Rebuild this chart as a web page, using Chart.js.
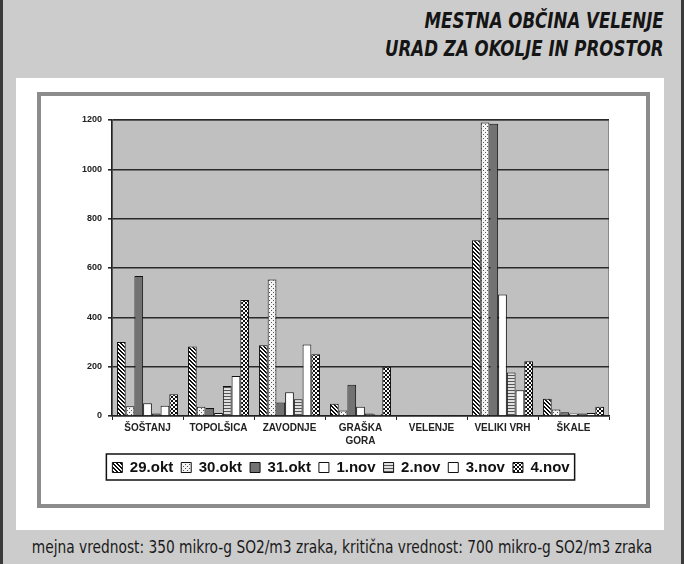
<!DOCTYPE html>
<html>
<head>
<meta charset="utf-8">
<script src="https://cdn.jsdelivr.net/npm/chart.js@4.4.0/dist/chart.umd.min.js"></script>
<style>
  body { margin: 0; width: 684px; height: 564px; background: #cccccc; position: relative; overflow: hidden; }
  .edge { position: absolute; left: 0; top: 0; width: 678px; height: 564px; border-left: 3px solid #3a3a3a; border-right: 3px solid #3a3a3a; }
  .title { position: absolute; right: 20px; top: 7px; text-align: right; color: #151515;
    font-family: "Liberation Sans Narrow", "DejaVu Sans Condensed", sans-serif; font-stretch: condensed;
    font-weight: bold; font-style: italic; font-size: 22px; line-height: 28px;
    transform: scaleX(0.84); transform-origin: right top; }
  .panel { position: absolute; left: 16px; top: 78px; width: 648px; height: 452px; background: #ffffff; }
  .frame { position: absolute; left: 37px; top: 92px; width: 605px; height: 408px; border: 4px solid #8c8c8c; background: #fff; }
  .frame canvas { position: absolute; left: 0; top: 0; }
  .note { position: absolute; left: -158px; width: 1000px; top: 537px; text-align: center; color: #1a1a1a; white-space: nowrap;
    font-family: "Liberation Sans Narrow", "DejaVu Sans Condensed", sans-serif; font-size: 17px;
    transform: scaleX(0.9); transform-origin: 500px 0; }
</style>
</head>
<body>
<div class="edge"></div>
<div class="title">MESTNA OBČINA VELENJE<br>URAD ZA OKOLJE IN PROSTOR</div>
<div class="panel"></div>
<div class="frame"><canvas id="so2Chart" width="605" height="408"></canvas></div>
<div class="note">mejna vrednost: 350 mikro-g SO2/m3 zraka, kritična vrednost: 700 mikro-g SO2/m3 zraka</div>

<script>
// kraji in dnevi
const places = ['ŠOŠTANJ', 'TOPOLŠICA', 'ZAVODNJE', ['GRAŠKA', 'GORA'], 'VELENJE', 'VELIKI VRH', 'ŠKALE'];
const days = ['29.okt', '30.okt', '31.okt', '1.nov', '2.nov', '3.nov', '4.nov'];

// koncentracije SO2 po dnevih (odčitano s slike)
const okt29 = [300, 282, 287, 50, 2, 712, 70];
const okt30 = [40, 38, 553, 22, 2, 1190, 26];
const okt31 = [568, 32, 55, 127, 2, 1185, 15];
const nov1 = [52, 12, 96, 38, 2, 493, 10];
const nov2 = [10, 122, 68, 10, 2, 176, 10];
const nov3 = [42, 162, 290, 8, 2, 104, 12];
const nov4 = [88, 470, 250, 200, 2, 222, 38];

const yTicks = [0, 200, 400, 600, 800, 1000, 1200];

const ctx = document.getElementById('so2Chart').getContext('2d');

// vzorci za stolpce (kot v Excelu)
function makePattern(size, draw) {
    const c = document.createElement('canvas');
    c.width = size; c.height = size;
    draw(c.getContext('2d'));
    return ctx.createPattern(c, 'repeat');
}

const pDiag = makePattern(4, g => {
    g.fillStyle = '#fff'; g.fillRect(0, 0, 4, 4);
    g.fillStyle = '#111';
    for (let i = 0; i < 4; i++) { g.fillRect(i, i, 1, 1); g.fillRect((i + 1) % 4, i, 1, 1); }
});
const pDots = makePattern(4, g => {
    g.fillStyle = '#f4f4f4'; g.fillRect(0, 0, 4, 4);
    g.fillStyle = '#555';
    g.fillRect(0, 0, 1, 1); g.fillRect(2, 2, 1, 1);
});
const pHoriz = makePattern(3, g => {
    g.fillStyle = '#e0e0e0'; g.fillRect(0, 0, 3, 3);
    g.fillStyle = '#555'; g.fillRect(0, 0, 3, 1);
});
const pCheck = makePattern(4, g => {
    g.fillStyle = '#111'; g.fillRect(0, 0, 4, 4);
    g.fillStyle = '#fff'; g.fillRect(0, 0, 2, 2); g.fillRect(2, 2, 2, 2);
});

const fills = [pDiag, pDots, '#727272', '#ffffff', pHoriz, '#ffffff', pCheck];
const series = [okt29, okt30, okt31, nov1, nov2, nov3, nov4];

// siva podlaga grafa
const plotBg = {
    id: 'plotBg',
    beforeDraw(chart) {
        const a = chart.chartArea;
        const c = chart.ctx;
        c.save();
        c.fillStyle = '#c0c0c0';
        c.fillRect(a.left, a.top, a.right - a.left, a.bottom - a.top);
        c.strokeStyle = '#8a8a8a';
        c.lineWidth = 1;
        c.strokeRect(a.left + 0.5, a.top + 0.5, a.right - a.left - 1, a.bottom - a.top - 1);
        c.restore();
    }
};

// okvir okoli legende
const legendBox = {
    id: 'legendBox',
    afterDraw(chart) {
        const boxes = chart.legend.legendHitBoxes;
        if (!boxes || !boxes.length) return;
        const l = Math.min(...boxes.map(b => b.left)) - 6;
        const r = Math.max(...boxes.map(b => b.left + b.width)) + 5;
        const t = Math.min(...boxes.map(b => b.top)) - 6;
        const bt = Math.max(...boxes.map(b => b.top + b.height)) + 5;
        const c = chart.ctx;
        c.save();
        c.strokeStyle = '#111';
        c.lineWidth = 1.5;
        c.strokeRect(l, t, r - l, bt - t);
        c.restore();
    }
};

new Chart(ctx, {
    type: 'bar',
    data: {
        labels: places,
        datasets: days.map((d, i) => ({
            label: d,
            data: series[i],
            backgroundColor: fills[i],
            borderColor: '#111',
            borderWidth: 1,
            categoryPercentage: 0.86,
            barPercentage: 1.0
        }))
    },
    options: {
        responsive: false,
        animation: false,
        layout: { padding: { top: 24, right: 37, bottom: 19, left: 32 } },
        plugins: {
            tooltip: { enabled: false },
            legend: {
                position: 'bottom',
                labels: {
                    boxWidth: 10, boxHeight: 10, padding: 8, color: '#111',
                    font: { family: 'Liberation Sans, Arial, sans-serif', size: 15, weight: 'bold' }
                }
            }
        },
        scales: {
            x: {
                grid: { display: true, drawOnChartArea: false, drawTicks: true, tickLength: 4, color: '#222', offset: true },
                border: { color: '#222', width: 1.5 },
                ticks: { color: '#222', maxRotation: 0, autoSkip: false, padding: 2,
                    font: { family: 'Liberation Sans, Arial, sans-serif', size: 10, weight: 'bold', lineHeight: 1.25 } },
                afterFit(s) { s.height = 36; }
            },
            y: {
                min: 0, max: 1200,
                afterBuildTicks(s) { s.ticks = yTicks.map(v => ({ value: v })); },
                grid: { color: '#2a2a2a', lineWidth: 1.6, drawTicks: true, tickLength: 4 },
                border: { color: '#222', width: 1.5 },
                ticks: { color: '#222', padding: 6, callback: v => String(v),
                    font: { family: 'Liberation Sans, Arial, sans-serif', size: 9, weight: 'bold' } },
                afterFit(s) { s.width = 39; }
            }
        }
    },
    plugins: [plotBg, legendBox]
});
</script>
</body>
</html>
